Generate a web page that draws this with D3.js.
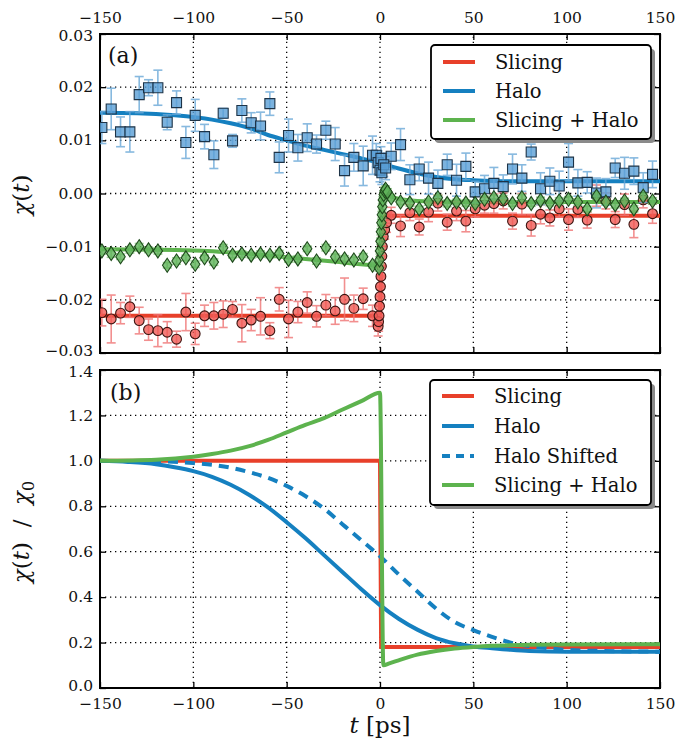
<!DOCTYPE html>
<html>
<head>
<meta charset="utf-8">
<script src="https://cdn.jsdelivr.net/npm/d3@7"></script>
<style>
  body { margin: 0; background: #fff; }
  svg { display: block; }
  text { font-family: "DejaVu Serif", serif; fill: #111; }
</style>
</head>
<body>
<svg id="chart" width="678" height="742"></svg>
<script>
// ---- data ----
const xTicks = [-150, -100, -50, 0, 50, 100, 150];
const yTicksA = [-0.03, -0.02, -0.01, 0.00, 0.01, 0.02, 0.03];
const yTicksB = [0.0, 0.2, 0.4, 0.6, 0.8, 1.0, 1.2, 1.4];

// delay points, 5 ps spacing (before and after the overlap)
const tGrid = [-149, -144, -139, -134, -129, -124, -119, -114, -109, -104,
               -99, -94, -89, -84, -79, -74, -69, -64, -59, -54,
               -49, -44, -39, -34, -29, -24, -19, -14, -9, -4,
               6, 11, 16, 21, 26, 31, 36, 41, 46, 51,
               56, 61, 66, 71, 76, 81, 86, 91, 96, 101,
               106, 111, 116, 121, 126, 131, 136, 141, 146];

const haloVals = [0.0124, 0.0159, 0.0116, 0.0116, 0.0186, 0.0199, 0.0199, 0.0134, 0.0171, 0.0096,
                  0.0147, 0.0107, 0.0073, 0.0151, 0.0099, 0.0156, 0.0133, 0.0127, 0.0169, 0.0068,
                  0.0109, 0.0086, 0.0105, 0.0093, 0.0119, 0.0093, 0.0043, 0.0068, 0.0052, 0.0072,
                  0.0070, 0.0092, 0.0026, 0.0046, 0.0029, 0.0019, 0.0054, 0.0025, 0.0051, 0.0003,
                  0.0009, 0.0019, 0.0013, 0.0046, 0.0029, 0.0078, 0.0009, 0.0023, 0.0014, 0.0059,
                  0.0020, 0.0021, 0.0001, 0.0003, 0.0048, 0.0038, 0.0042, 0.0011, 0.0036];
const haloErr = [0.0030, 0.0039, 0.0028, 0.0038, 0.0034, 0.0015, 0.0033, 0.0014, 0.0022, 0.0030,
                 0.0030, 0.0023, 0.0026, 0.0009, 0.0012, 0.0022, 0.0019, 0.0026, 0.0022, 0.0029,
                 0.0031, 0.0025, 0.0026, 0.0017, 0.0017, 0.0031, 0.0029, 0.0026, 0.0037, 0.0036,
                 0.0025, 0.0030, 0.0028, 0.0022, 0.0030, 0.0025, 0.0020, 0.0030, 0.0025, 0.0020,
                 0.0025, 0.0030, 0.0022, 0.0028, 0.0025, 0.0015, 0.0030, 0.0025, 0.0028, 0.0035,
                 0.0025, 0.0020, 0.0028, 0.0025, 0.0018, 0.0030, 0.0025, 0.0028, 0.0025];

const slicingVals = [-0.0224, -0.0236, -0.0225, -0.0213, -0.0239, -0.0256, -0.0258, -0.0261, -0.0274, -0.0223,
                     -0.0264, -0.0230, -0.0230, -0.0227, -0.0218, -0.0244, -0.0238, -0.0231, -0.0258, -0.0199,
                     -0.0236, -0.0223, -0.0205, -0.0231, -0.0210, -0.0221, -0.0199, -0.0216, -0.0198, -0.0230,
                     -0.0041, -0.0061, -0.0036, -0.0063, -0.0035, -0.0018, -0.0054, -0.0033, -0.0052, -0.0029,
                     -0.0022, -0.0019, -0.0014, -0.0052, -0.0020, -0.0060, -0.0039, -0.0046, -0.0029, -0.0049,
                     -0.0030, -0.0050, -0.0004, -0.0014, -0.0049, -0.0021, -0.0058, -0.0012, -0.0038];
const slicingErr = [0.0025, 0.0045, 0.0020, 0.0020, 0.0025, 0.0020, 0.0030, 0.0020, 0.0015, 0.0035,
                    0.0020, 0.0020, 0.0025, 0.0025, 0.0015, 0.0035, 0.0020, 0.0035, 0.0015, 0.0022,
                    0.0035, 0.0020, 0.0020, 0.0020, 0.0020, 0.0025, 0.0040, 0.0025, 0.0020, 0.0020,
                    0.0015, 0.0020, 0.0015, 0.0015, 0.0018, 0.0015, 0.0015, 0.0018, 0.0020, 0.0015,
                    0.0015, 0.0018, 0.0015, 0.0015, 0.0020, 0.0020, 0.0018, 0.0015, 0.0015, 0.0020,
                    0.0015, 0.0015, 0.0020, 0.0015, 0.0015, 0.0020, 0.0025, 0.0015, 0.0018];

const comboVals = [-0.0108, -0.0113, -0.0119, -0.0106, -0.0100, -0.0106, -0.0108, -0.0135, -0.0127, -0.0121,
                   -0.0133, -0.0121, -0.0129, -0.0102, -0.0116, -0.0114, -0.0116, -0.0114, -0.0116, -0.0113,
                   -0.0124, -0.0123, -0.0104, -0.0127, -0.0102, -0.0119, -0.0123, -0.0125, -0.0119, -0.0135,
                   -0.0008, -0.0016, -0.0018, -0.0029, -0.0016, -0.0008, -0.0019, -0.0016, -0.0018, -0.0019,
                   -0.0011, -0.0008, -0.0010, -0.0019, -0.0008, -0.0019, -0.0013, -0.0018, -0.0014, -0.0011,
                   -0.0016, -0.0029, -0.0005, -0.0016, -0.0021, -0.0014, -0.0029, -0.0005, -0.0014];
const comboErr = [0.0006, 0.0007, 0.0005, 0.0006, 0.0006, 0.0005, 0.0006, 0.0005, 0.0006, 0.0005,
                  0.0006, 0.0005, 0.0006, 0.0006, 0.0005, 0.0006, 0.0005, 0.0006, 0.0005, 0.0006,
                  0.0005, 0.0006, 0.0005, 0.0006, 0.0006, 0.0005, 0.0006, 0.0005, 0.0006, 0.0005,
                  0.0006, 0.0005, 0.0006, 0.0005, 0.0006, 0.0005, 0.0006, 0.0005, 0.0006, 0.0005,
                  0.0006, 0.0005, 0.0006, 0.0005, 0.0006, 0.0005, 0.0006, 0.0005, 0.0006, 0.0005,
                  0.0006, 0.0005, 0.0006, 0.0005, 0.0006, 0.0005, 0.0006, 0.0005, 0.0006];

// dense scan right at the overlap
const tNearHalo = [-2, -1, 0, 0.5, 1, 2, 3];
const haloNear = [0.0072, 0.0058, 0.0044, 0.0066, 0.0039, 0.0054, 0.0048];
const tNearSlicing = [-1, -0.75, -0.5, -0.25, 0, 0.25, 0.5, 0.75, 1, 1.25, 1.75, 2.5, 3.5];
const slicingNear = [-0.0250, -0.0241, -0.0230, -0.0212, -0.0194, -0.0175, -0.0156, -0.0137, -0.0118, -0.0100, -0.0081, -0.0068, -0.0055];
const tNearCombo = [-0.5, -0.25, 0, 0.25, 0.5, 0.75, 1, 1.25, 1.5, 2, 2.5, 3, 4];
const comboNear = [-0.0140, -0.0125, -0.0108, -0.0090, -0.0072, -0.0055, -0.0040, -0.0025, -0.0012, -0.0002, 0.0005, 0.0008, 0.0003];

// fitted curves, panel (a)
const haloFitT = [-150, -130, -110, -90, -80, -70, -60, -50, -40, -30, -20, -10, 0, 10, 20, 30, 40, 50, 70, 100, 150];
const haloFitV = [0.0152, 0.0151, 0.0147, 0.0139, 0.0132, 0.0123, 0.0110, 0.0100, 0.0090, 0.0082, 0.0074, 0.0066, 0.0057, 0.0047, 0.0038, 0.0031, 0.0027, 0.0025, 0.0023, 0.0023, 0.0023];
const slicingFitT = [-150, 0, 0.5, 1, 2, 3, 150];
const slicingFitV = [-0.0230, -0.0230, -0.0150, -0.0080, -0.0045, -0.0042, -0.0042];
const comboFitT = [-150, -100, -75, -50, -25, 0, 0.5, 1, 1.5, 5, 10, 20, 40, 150];
const comboFitV = [-0.0105, -0.0107, -0.0112, -0.0120, -0.0128, -0.0135, -0.0070, -0.0010, 0.0002, -0.0005, -0.0010, -0.0014, -0.0016, -0.0016];

// model curves, panel (b)
const slicingModelT = [-150, 0, 0.6, 150];
const slicingModelV = [1.0, 1.0, 0.18, 0.18];
const haloModelT = [-150, -135, -120, -110, -100, -90, -80, -70, -60, -50, -40, -30, -20, -10, 0, 10, 20, 30, 40, 50, 60, 70, 80, 100, 150];
const haloModelV = [1.000, 0.995, 0.985, 0.972, 0.955, 0.930, 0.895, 0.850, 0.795, 0.730, 0.660, 0.585, 0.510, 0.435, 0.365, 0.305, 0.257, 0.220, 0.197, 0.183, 0.175, 0.168, 0.163, 0.160, 0.160];
const shiftedModelT = [-150, -120, -100, -80, -70, -60, -50, -40, -30, -20, -10, 0, 10, 20, 30, 40, 50, 60, 70, 80, 90, 100, 120, 150];
const shiftedModelV = [1.000, 0.998, 0.990, 0.970, 0.950, 0.925, 0.890, 0.845, 0.790, 0.720, 0.650, 0.580, 0.500, 0.425, 0.350, 0.290, 0.255, 0.225, 0.200, 0.185, 0.175, 0.168, 0.163, 0.160];
const comboModelT = [-150, -120, -100, -90, -80, -70, -60, -50, -40, -30, -20, -10, 0, 1.8, 5, 10, 20, 30, 40, 50, 60, 80, 100, 150];
const comboModelV = [1.000, 1.005, 1.018, 1.030, 1.045, 1.065, 1.092, 1.125, 1.158, 1.188, 1.226, 1.263, 1.300, 0.100, 0.108, 0.122, 0.147, 0.163, 0.174, 0.181, 0.186, 0.190, 0.192, 0.193];

// ---- drawing ----
const colRed = "#e8402a", colBlue = "#1580c0", colGreen = "#5db34e";
const NB = "\u00a0";

const svg = d3.select("#chart");
svg.append("rect").attr("width", 678).attr("height", 742).attr("fill", "#fff");

const x = d3.scaleLinear().domain([-150, 150]).range([100, 660]);
const yA = d3.scaleLinear().domain([-0.03, 0.03]).range([353, 34]);
const yB = d3.scaleLinear().domain([0, 1.4]).range([688, 370]);

function zip(ts, vs, es) {
  return ts.map((t, i) => ({t: t, v: vs[i], e: es ? es[i] : 0}));
}

function drawFrame(g, y, yTicks, yFmt, xLabelsTop, id) {
  const [y0, y1] = y.range();
  svg.append("clipPath").attr("id", id)
    .append("rect").attr("x", 100).attr("y", y1).attr("width", 560).attr("height", y0 - y1);

  // dotted grid
  g.selectAll(".gx").data(xTicks.slice(1, -1)).enter().append("line")
    .attr("x1", d => x(d)).attr("x2", d => x(d))
    .attr("y1", y0).attr("y2", y1)
    .attr("stroke", "#000").attr("stroke-width", 1.3).attr("stroke-dasharray", "1.3,3.7");
  g.selectAll(".gy").data(yTicks.slice(1, -1)).enter().append("line")
    .attr("x1", 100).attr("x2", 660)
    .attr("y1", d => y(d)).attr("y2", d => y(d))
    .attr("stroke", "#000").attr("stroke-width", 1.3).attr("stroke-dasharray", "1.3,3.7");

  const fmtX = d3.format("d");
  const top = g.append("g").attr("transform", `translate(0,${y1})`)
    .call(d3.axisTop(x).tickValues(xTicks).tickSize(-6).tickPadding(11)
      .tickFormat(xLabelsTop ? fmtX : () => ""));
  const bot = g.append("g").attr("transform", `translate(0,${y0})`)
    .call(d3.axisBottom(x).tickValues(xTicks).tickSize(-6).tickPadding(10)
      .tickFormat(xLabelsTop ? () => "" : fmtX));
  const left = g.append("g").attr("transform", "translate(100,0)")
    .call(d3.axisLeft(y).tickValues(yTicks).tickSize(-6).tickPadding(7).tickFormat(yFmt));
  const right = g.append("g").attr("transform", "translate(660,0)")
    .call(d3.axisRight(y).tickValues(yTicks).tickSize(-6).tickFormat(() => ""));
  [top, bot, left, right].forEach(a => {
    a.select(".domain").remove();
    a.selectAll(".tick line").attr("stroke", "#000").attr("stroke-width", 1.3);
    a.selectAll("text").attr("font-family", "DejaVu Serif").attr("font-size", 15.5).attr("fill", "#111");
  });
  // end labels nudged inward so they clear the neighbouring axis labels
  const last = yTicks.length - 1;
  left.selectAll("text").attr("dy", (d, i) => i === 0 ? "0.15em" : i === last ? "0.45em" : "0.3em");

  g.append("rect").attr("x", 100).attr("y", y1).attr("width", 560).attr("height", y0 - y1)
    .attr("fill", "none").attr("stroke", "#000").attr("stroke-width", 2);
}

function drawCurve(g, ts, vs, y, color, dash, curve) {
  const line = d3.line().x(d => x(d.t)).y(d => y(d.v)).curve(curve || d3.curveMonotoneX);
  g.append("path").datum(zip(ts, vs))
    .attr("d", line).attr("fill", "none")
    .attr("stroke", color).attr("stroke-width", 4)
    .attr("stroke-dasharray", dash || null);
}

function drawErrors(g, pts, y, color) {
  const eb = g.append("g").attr("stroke", color).attr("stroke-width", 1.6).attr("opacity", 0.8);
  pts.forEach(p => {
    if (!p.e) return;
    const px = x(p.t), ya = y(p.v + p.e), yb = y(p.v - p.e);
    eb.append("line").attr("x1", px).attr("x2", px).attr("y1", ya).attr("y2", yb);
    eb.append("line").attr("x1", px - 4.5).attr("x2", px + 4.5).attr("y1", ya).attr("y2", ya);
    eb.append("line").attr("x1", px - 4.5).attr("x2", px + 4.5).attr("y1", yb).attr("y2", yb);
  });
}

function drawMarkers(g, pts, y, shape, fill, edge) {
  const sym = {
    circle: "M4.9,0A4.9,4.9,0,1,1,-4.9,0A4.9,4.9,0,1,1,4.9,0Z",
    square: "M-5,-5H5V5H-5Z",
    diamond: "M0,-7L4.7,0L0,7L-4.7,0Z"
  }[shape];
  g.selectAll(null).data(pts).enter().append("path")
    .attr("d", sym)
    .attr("transform", d => `translate(${x(d.t)},${y(d.v)})`)
    .attr("fill", fill).attr("fill-opacity", 0.8)
    .attr("stroke", edge).attr("stroke-width", 1.1);
}

function drawLegend(g, x0, y0, w, h, rows) {
  g.append("rect").attr("x", x0 + 4).attr("y", y0 + 4).attr("width", w).attr("height", h)
    .attr("rx", 4).attr("fill", "#8a8a8a");
  g.append("rect").attr("x", x0).attr("y", y0).attr("width", w).attr("height", h)
    .attr("rx", 4).attr("fill", "#fff").attr("stroke", "#000").attr("stroke-width", 1.8);
  rows.forEach(r => {
    g.append("line").attr("x1", x0 + 12).attr("x2", x0 + 44)
      .attr("y1", r.y).attr("y2", r.y)
      .attr("stroke", r.color).attr("stroke-width", 4)
      .attr("stroke-dasharray", r.dash || null);
    g.append("text").attr("x", x0 + 64).attr("y", r.y).attr("dy", "0.35em")
      .attr("font-size", 19.5).text(r.label);
  });
}

// ---- panel (a) ----
const gA = svg.append("g");
drawFrame(gA, yA, yTicksA, d3.format(".2f"), true, "clipA");
const plotA = gA.append("g").attr("clip-path", "url(#clipA)");

drawCurve(plotA, slicingFitT, slicingFitV, yA, colRed, null, d3.curveLinear);
drawCurve(plotA, haloFitT, haloFitV, yA, colBlue);
drawCurve(plotA, comboFitT, comboFitV, yA, colGreen);

const slicingPts = zip(tGrid, slicingVals, slicingErr)
  .concat(zip(tNearSlicing, slicingNear, tNearSlicing.map(() => 0.0018)));
const haloPts = zip(tGrid, haloVals, haloErr)
  .concat(zip(tNearHalo, haloNear, tNearHalo.map(() => 0.0022)));
const comboPts = zip(tGrid, comboVals, comboErr)
  .concat(zip(tNearCombo, comboNear, tNearCombo.map(() => 0.0006)));

drawErrors(plotA, slicingPts, yA, "#f07474");
drawMarkers(plotA, slicingPts, yA, "circle", "#f05a55", "#3b1410");
drawErrors(plotA, haloPts, yA, "#6aa8d8");
drawMarkers(plotA, haloPts, yA, "square", "#5a9fd6", "#1d3347");
drawErrors(plotA, comboPts, yA, "#86c97e");
drawMarkers(plotA, comboPts, yA, "diamond", "#5fb35a", "#1f4a1c");

gA.append("text").attr("x", 108).attr("y", 63).attr("font-size", 22).text("(a)");
drawLegend(gA, 431, 45, 220, 94, [
  {label: "Slicing", color: colRed, y: 62},
  {label: "Halo", color: colBlue, y: 91},
  {label: "Slicing + Halo", color: colGreen, y: 120}
]);

// ---- panel (b) ----
const gB = svg.append("g");
drawFrame(gB, yB, yTicksB, d3.format(".1f"), false, "clipB");
const plotB = gB.append("g").attr("clip-path", "url(#clipB)");

drawCurve(plotB, slicingModelT, slicingModelV, yB, colRed, null, d3.curveLinear);
drawCurve(plotB, haloModelT, haloModelV, yB, colBlue);
drawCurve(plotB, shiftedModelT, shiftedModelV, yB, colBlue, "10,7");
drawCurve(plotB, comboModelT, comboModelV, yB, colGreen);

gB.append("text").attr("x", 110).attr("y", 400).attr("font-size", 22).text("(b)");
drawLegend(gB, 430, 380, 221, 125, [
  {label: "Slicing", color: colRed, y: 396},
  {label: "Halo", color: colBlue, y: 426},
  {label: "Halo Shifted", color: colBlue, y: 456, dash: "8,6"},
  {label: "Slicing + Halo", color: colGreen, y: 485}
]);

// ---- axis titles ----
const yl1 = svg.append("text").attr("transform", "translate(29,195) rotate(-90)")
  .attr("text-anchor", "middle").attr("font-size", 23);
yl1.append("tspan").attr("font-style", "italic").text("χ");
yl1.append("tspan").text("(");
yl1.append("tspan").attr("font-style", "italic").text("t");
yl1.append("tspan").text(")");

const yl2 = svg.append("text").attr("transform", "translate(29,532) rotate(-90)")
  .attr("text-anchor", "middle").attr("font-size", 23);
yl2.append("tspan").attr("font-style", "italic").text("χ");
yl2.append("tspan").text("(");
yl2.append("tspan").attr("font-style", "italic").text("t");
yl2.append("tspan").text(")" + NB + NB + "/" + NB + NB);
yl2.append("tspan").attr("font-style", "italic").text("χ");
yl2.append("tspan").attr("font-size", 16).attr("dy", 5).text("0");

const xl = svg.append("text").attr("x", 380).attr("y", 733)
  .attr("text-anchor", "middle").attr("font-size", 23);
xl.append("tspan").attr("font-style", "italic").text("t");
xl.append("tspan").text(" [ps]");
</script>
</body>
</html>
